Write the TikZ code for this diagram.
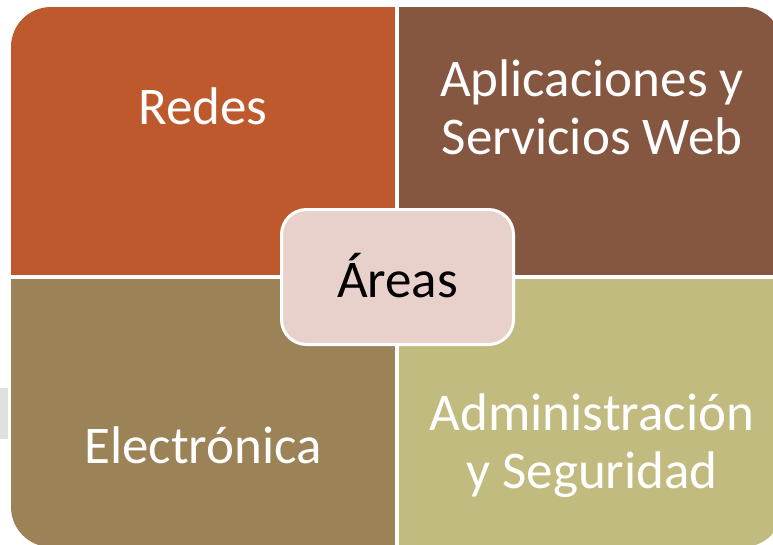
\documentclass[tikz,border=0pt]{standalone}
\usepackage{fontspec}
\setmainfont{Carlito}
\usetikzlibrary{positioning}
\tikzstyle{pixelGrid} = [x = 1pt, y = -1pt]
\definecolor{redesColor}{RGB}{190,89,45}
\definecolor{webColor}{RGB}{133,86,64}
\definecolor{electronicaColor}{RGB}{155,130,87}
\definecolor{seguridadColor}{RGB}{194,187,128}
\definecolor{centerColor}{RGB}{232,208,203}
\definecolor{sideGray}{RGB}{224,224,224}
\tikzstyle{areaText} = [text=white, align=center, inner sep=0pt, font=\fontsize{53}{58}\selectfont]
\tikzstyle{centerBox} = [fill=centerColor, draw=white, line width=3pt, rounded corners=25pt, minimum width=232pt, minimum height=135pt, text=black, font=\fontsize{53}{58}\selectfont]
\newcommand{\outerRadius}{40pt}
\newcommand{\quadrant}[5]{\fill [#1] (#2, #3) rectangle (#4, #5);}

\begin{document}
\begin{tikzpicture}[pixelGrid]
  \useasboundingbox (0,0) rectangle (773,544);
  \fill [sideGray] (0,388) rectangle (8,439);
  \begin{scope}
    \clip [rounded corners=\outerRadius] (11,7) rectangle (783,547);
    \quadrant{redesColor}{11}{7}{395}{274.5}
    \quadrant{webColor}{399}{7}{783}{274.5}
    \quadrant{electronicaColor}{11}{278.5}{395}{547}
    \quadrant{seguridadColor}{399}{278.5}{783}{547}
  \end{scope}

  \node [areaText] (redes) at (203,106) {Redes};
  \node [areaText] (web) at (592,107) {Aplicaciones y\\Servicios Web};
  \node [areaText] (electronica) at (203,445) {Electrónica};
  \node [areaText] (seguridad) at (592,446) {Administración\\y Seguridad};
  \node [centerBox] (areas) at (397.5,277) {\raisebox{3pt}{Áreas}};
\end{tikzpicture}
\end{document}
